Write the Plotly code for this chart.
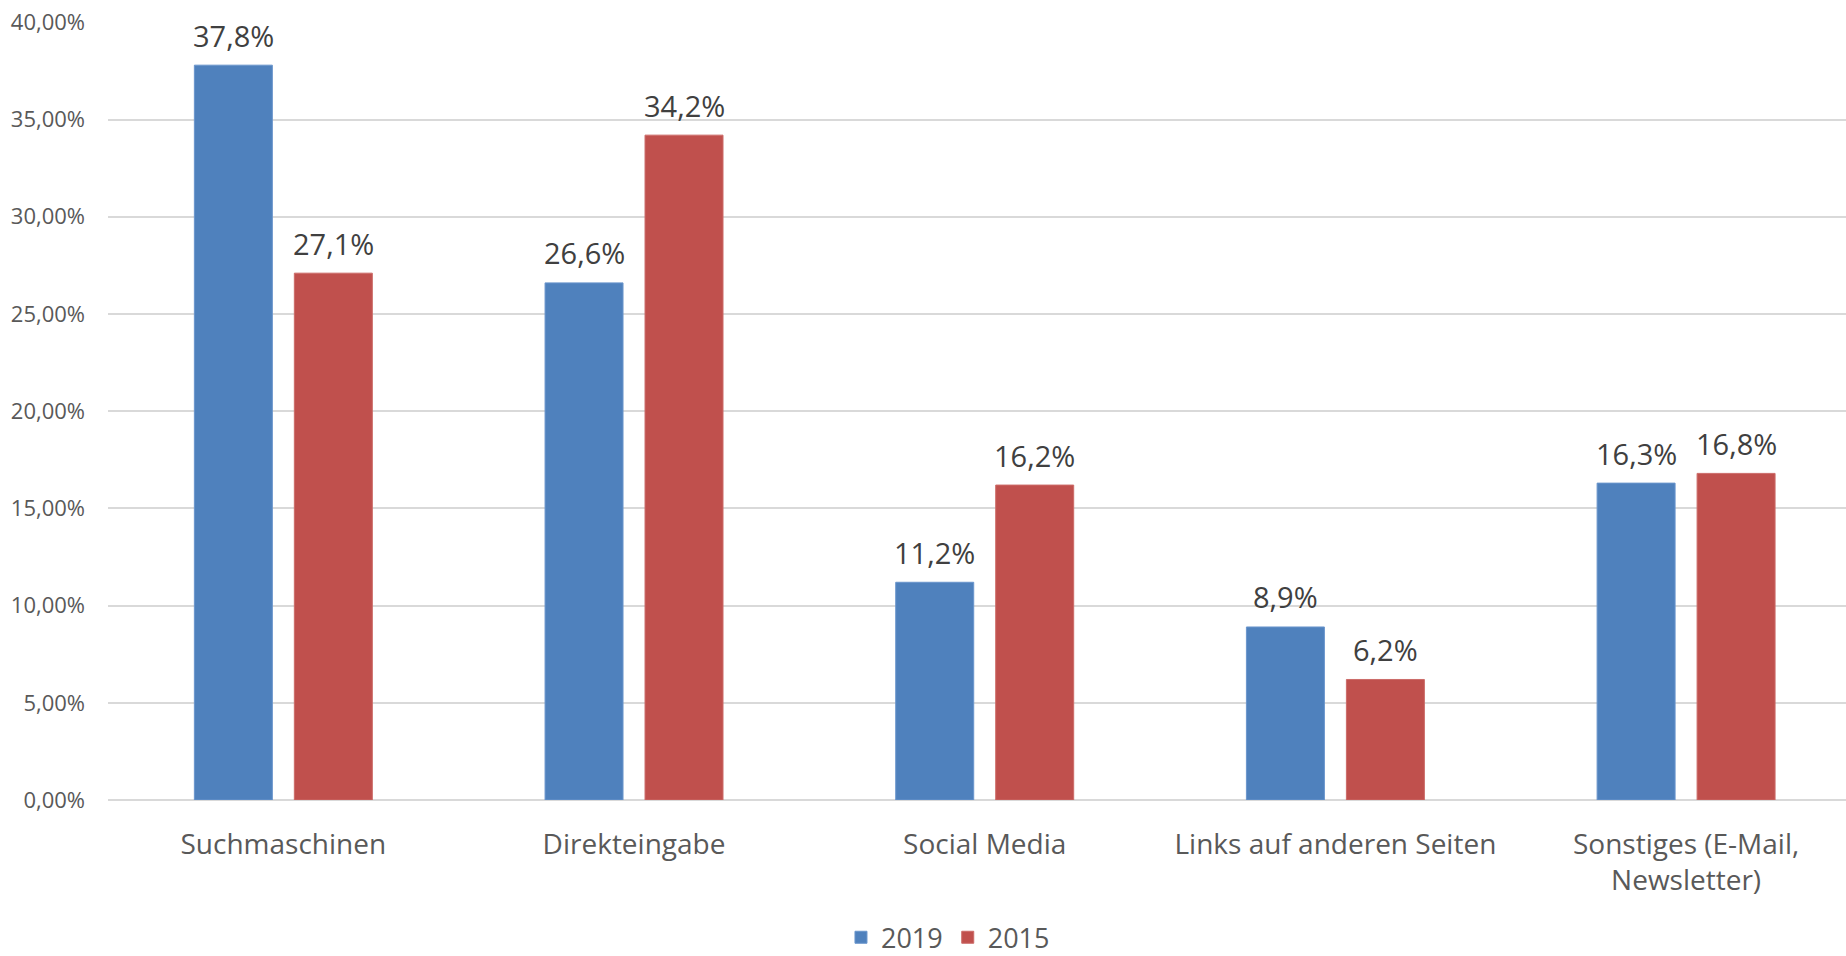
import plotly.graph_objects as go

categories = ["Suchmaschinen", "Direkteingabe", "Social Media", "Links auf anderen Seiten", "Sonstiges (E-Mail,<br>Newsletter)"]
series_names = ["2019", "2015"]
values_2019 = [0.378, 0.266, 0.112, 0.089, 0.163]
values_2015 = [0.271, 0.342, 0.162, 0.062, 0.168]
tick_values = [0.0, 0.05, 0.10, 0.15, 0.20, 0.25, 0.30, 0.35, 0.40]
colors = ["#4F81BD", "#C0504D"]
line_colors = ["#6A95CC", "#CC6B68"]

FONT = "Open Sans"
x_idx = list(range(len(categories)))

fig = go.Figure()
for name, vals, c, lc in zip(series_names, [values_2019, values_2015], colors, line_colors):
    fig.add_trace(go.Bar(
        x=x_idx, y=vals, name=name,
        marker=dict(color=c, line=dict(color=lc, width=1)),
        hoverinfo="skip",
    ))

# data labels
slot = 0.2851  # category-units width of one bar slot
for k, vals in enumerate([values_2019, values_2015]):
    off = (-0.5 + k) * slot
    for i, v in enumerate(vals):
        fig.add_annotation(
            x=i + off, y=v, text=f"{v*100:.1f}%".replace(".", ","),
            showarrow=False, yanchor="middle", yshift=30,
            font=dict(family=FONT, size=29, color="#404040"),
        )

fig.update_layout(
    width=1846, height=956,
    margin=dict(l=108, r=0, t=22, b=156, autoexpand=False),
    paper_bgcolor="white", plot_bgcolor="white",
    separators=",.",
    barmode="group", bargap=0.4298, bargroupgap=0.22,
    font=dict(family=FONT, color="#595959"),
    showlegend=True,
    legend=dict(orientation="h", x=0.4833, xanchor="center", y=-0.177, yanchor="middle",
                font=dict(family=FONT, size=27, color="#595959"),
                itemwidth=30, traceorder="normal"),
)
fig.update_xaxes(
    range=[-0.5, 4.456], tickmode="array", tickvals=x_idx, ticktext=categories,
    showgrid=False, zeroline=False, showline=False, ticks="",
    tickfont=dict(family=FONT, size=28, color="#595959"),
    ticklabelstandoff=25, automargin=False,
)
fig.update_yaxes(
    range=[0, 0.4002], tickvals=tick_values, tickformat=".2%",
    showgrid=True, gridcolor="#D9D9D9", gridwidth=1.5,
    zeroline=True, zerolinecolor="#D9D9D9", zerolinewidth=1.5,
    showline=False, ticks="",
    tickfont=dict(family=FONT, size=22, color="#595959"),
    ticklabelstandoff=22, automargin=False,
)

fig.write_html(
    "out.html",
    config={"displayModeBar": False},
    post_script="document.body.style.margin='0';document.body.style.overflow='hidden';",
)
